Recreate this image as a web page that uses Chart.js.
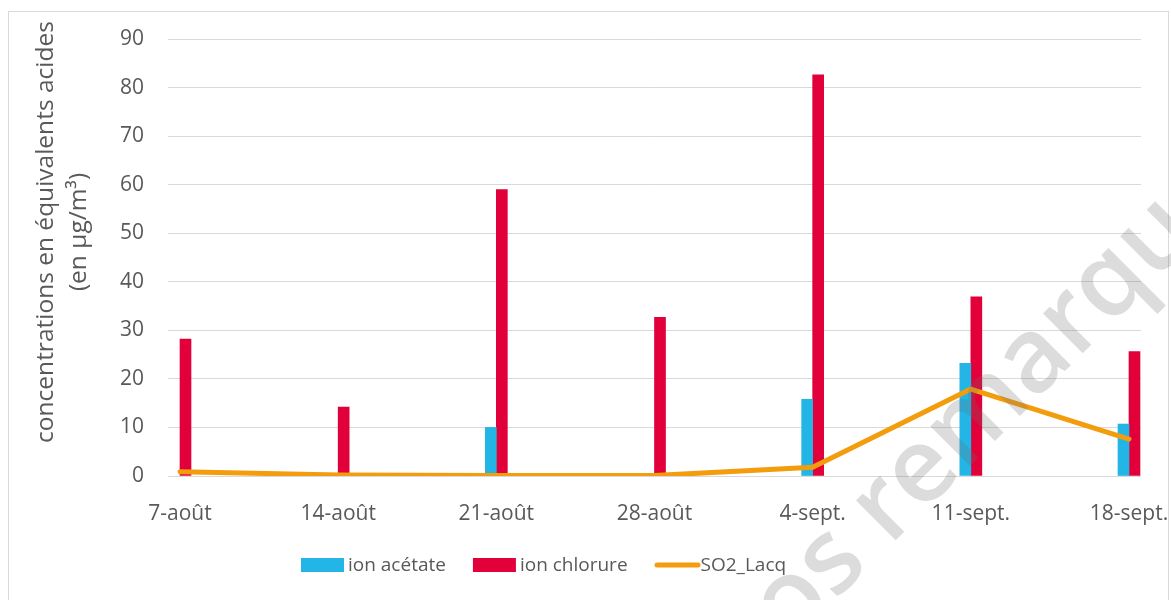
<!DOCTYPE html>
<html lang="fr">
<head>
<meta charset="utf-8">
<title>Concentrations en équivalents acides</title>
<script src="https://cdn.jsdelivr.net/npm/chart.js@4.4.1/dist/chart.umd.min.js"></script>
<style>
  html, body { margin: 0; padding: 0; background: #ffffff; }
  canvas { display: block; }
</style>
</head>
<body>
<canvas id="chart" width="1171" height="600"></canvas>
<script>
// Weekly sampling dates
const categories = ['7-août', '14-août', '21-août', '28-août', '4-sept.', '11-sept.', '18-sept.'];

// Concentrations in acid equivalents (µg/m³)
const ionAcetate = [null, null, 10.0, null, 15.8, 23.2, 10.7];
const ionChlorure = [28.2, 14.2, 59.0, 32.7, 82.6, 36.9, 25.6];
const so2Lacq = [0.9, 0.2, 0.1, 0.1, 1.8, 17.9, 7.6];

// Value axis
const yMin = 0;
const yMax = 90;
const yStep = 10;

const axisTitle = ['concentrations en équivalents acides', '(en µg/m³)'];
const watermarkText = 'os remarques';

const FONT = '"Open Sans", "Noto Sans", sans-serif';
const TEXT_GREY = '#595959';
const GRID_GREY = '#d9d9d9';

const toPoints = arr => arr.map((v, i) => ({ x: i, y: v }));

// Frame around the whole figure
const framePlugin = {
  id: 'frame',
  beforeDraw(chart) {
    const ctx = chart.ctx;
    ctx.save();
    ctx.fillStyle = '#ffffff';
    ctx.fillRect(0, 0, chart.width, chart.height);
    ctx.strokeStyle = GRID_GREY;
    ctx.lineWidth = 1;
    ctx.strokeRect(8.5, 11.5, 1160, chart.height);
    ctx.restore();
  }
};

// Two-line vertical axis title
const axisTitlePlugin = {
  id: 'axisTitle',
  afterDraw(chart) {
    const ctx = chart.ctx;
    ctx.save();
    ctx.fillStyle = TEXT_GREY;
    ctx.font = '24.5px ' + FONT;
    ctx.textAlign = 'center';
    ctx.textBaseline = 'alphabetic';
    const xs = [53, 86];
    axisTitle.forEach((line, i) => {
      ctx.save();
      ctx.translate(xs[i], 232);
      ctx.rotate(-Math.PI / 2);
      ctx.fillText(line, 0, 0);
      ctx.restore();
    });
    ctx.restore();
  }
};

// Legend row below the axis: filled boxes for bars, a thick stroke for the line
const legendPlugin = {
  id: 'customLegend',
  afterDraw(chart) {
    const ctx = chart.ctx;
    const ds = chart.data.datasets;
    ctx.save();
    ctx.font = '19px ' + FONT;
    ctx.textBaseline = 'middle';
    ctx.textAlign = 'left';
    const y = 565;
    const boxW = 43, boxH = 14, lineW = 46, gapText = 4, gapItem = 27;
    const items = ds.map(d => ({
      label: d.label,
      color: d.type === 'line' ? d.borderColor : d.backgroundColor,
      isLine: d.type === 'line',
      textW: ctx.measureText(d.label).width
    }));
    let x = 301;
    items.forEach(it => {
      if (it.isLine) {
        ctx.strokeStyle = it.color;
        ctx.lineWidth = 5;
        ctx.lineCap = 'round';
        ctx.beginPath();
        ctx.moveTo(x + 2.5, y);
        ctx.lineTo(x + lineW - 2.5, y);
        ctx.stroke();
        x += lineW;
      } else {
        ctx.fillStyle = it.color;
        ctx.fillRect(x, y - boxH / 2, boxW, boxH);
        x += boxW + gapText;
      }
      ctx.fillStyle = TEXT_GREY;
      ctx.fillText(it.label, x, y + 1);
      x += it.textW + gapItem;
    });
    ctx.restore();
  }
};

// Faint diagonal mark laid over the figure
const watermarkPlugin = {
  id: 'watermark',
  afterDraw(chart) {
    const ctx = chart.ctx;
    ctx.save();
    ctx.fillStyle = 'rgba(110, 110, 110, 0.24)';
    ctx.font = '600 104px ' + FONT;
    ctx.textAlign = 'left';
    ctx.textBaseline = 'alphabetic';
    ctx.translate(790, 646);
    ctx.rotate(-Math.PI / 4);
    ctx.fillText(watermarkText, 0, 0);
    ctx.restore();
  }
};

new Chart(document.getElementById('chart'), {
  type: 'bar',
  data: {
    datasets: [
      {
        type: 'bar',
        label: 'ion acétate',
        data: toPoints(ionAcetate),
        backgroundColor: '#22b5e6',
        barThickness: 11,
        order: 2
      },
      {
        type: 'bar',
        label: 'ion chlorure',
        data: toPoints(ionChlorure),
        backgroundColor: '#e2003a',
        barThickness: 11,
        order: 2
      },
      {
        type: 'line',
        label: 'SO2_Lacq',
        data: toPoints(so2Lacq),
        borderColor: '#f39c0c',
        backgroundColor: '#f39c0c',
        borderWidth: 5,
        borderCapStyle: 'round',
        borderJoinStyle: 'round',
        pointRadius: 0,
        tension: 0,
        fill: false,
        order: 1
      }
    ]
  },
  options: {
    responsive: false,
    devicePixelRatio: 1,
    animation: false,
    events: [],
    layout: { padding: { left: 0, right: 30, top: 39, bottom: 0 } },
    plugins: {
      legend: { display: false },
      tooltip: { enabled: false },
      title: { display: false }
    },
    scales: {
      x: {
        type: 'linear',
        min: -0.0759,
        max: categories.length - 1 + 0.0759,
        offset: false,
        grid: { display: false, offset: false, drawTicks: false },
        border: { display: false },
        afterBuildTicks(scale) {
          scale.ticks = categories.map((_, i) => ({ value: i }));
        },
        afterFit(scale) {
          scale.height = 124;
          scale.paddingLeft = 0;
          scale.paddingRight = 0;
        },
        ticks: {
          autoSkip: false,
          maxRotation: 0,
          padding: 25,
          color: TEXT_GREY,
          font: { family: FONT, size: 21 },
          callback: v => categories[v]
        }
      },
      y: {
        min: yMin,
        max: yMax,
        grid: { color: GRID_GREY, lineWidth: 1, drawTicks: false },
        border: { display: false },
        afterFit(scale) { scale.width = 168; },
        ticks: {
          stepSize: yStep,
          padding: 24,
          color: TEXT_GREY,
          font: { family: FONT, size: 21 }
        }
      }
    }
  },
  plugins: [framePlugin, axisTitlePlugin, legendPlugin, watermarkPlugin]
});
</script>
</body>
</html>
